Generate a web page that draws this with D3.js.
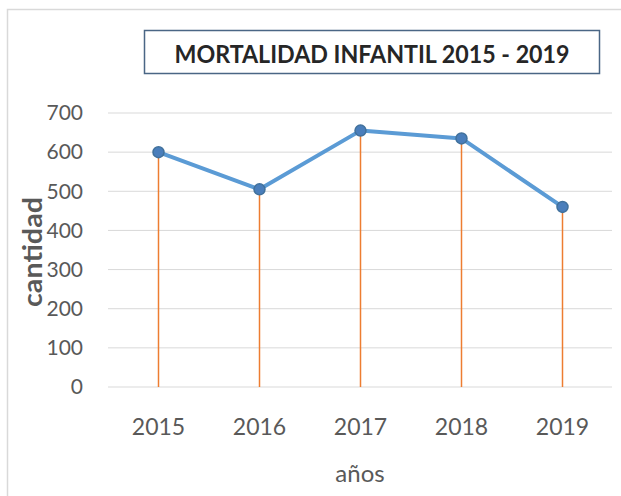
<!DOCTYPE html>
<html>
<head>
<meta charset="utf-8">
<script src="https://cdnjs.cloudflare.com/ajax/libs/d3/7.8.5/d3.min.js"></script>
<style>
  body { margin: 0; background: #fff; }
  text { font-family: Lato, "Open Sans", sans-serif; }
</style>
</head>
<body>
<div id="chart"></div>
<script>
const years = ["2015", "2016", "2017", "2018", "2019"];
const deaths = [600, 505, 655, 635, 460];
const yTicks = [0, 100, 200, 300, 400, 500, 600, 700];

const width = 621;
const height = 496;

const svg = d3.select("#chart")
  .append("svg")
  .attr("width", width)
  .attr("height", height);

svg.append("rect")
  .attr("width", width)
  .attr("height", height)
  .attr("fill", "#fff");

// outer chart frame (cut off at right and bottom)
svg.append("rect")
  .attr("x", 7.5)
  .attr("y", 9.5)
  .attr("width", width)
  .attr("height", height)
  .attr("fill", "none")
  .attr("stroke", "#d9d9d9")
  .attr("stroke-width", 1.5);

const x = d3.scaleBand()
  .domain(years)
  .range([108, 613]);

const y = d3.scaleLinear()
  .domain([0, 700])
  .range([387, 113]);

// gridlines
svg.selectAll(".grid")
  .data(yTicks)
  .enter().append("line")
  .attr("class", "grid")
  .attr("x1", 108)
  .attr("x2", 612)
  .attr("y1", d => y(d))
  .attr("y2", d => y(d))
  .attr("stroke", "#d9d9d9")
  .attr("stroke-width", 1);

// y tick labels
svg.selectAll(".ylab")
  .data(yTicks)
  .enter().append("text")
  .attr("class", "ylab")
  .attr("x", 83)
  .attr("y", d => y(d))
  .attr("dy", ".35em")
  .style("font-size", "21px")
  .style("fill", "#595959")
  .style("text-anchor", "end")
  .text(d => d);

// x tick labels
svg.selectAll(".xlab")
  .data(years)
  .enter().append("text")
  .attr("class", "xlab")
  .attr("x", d => x(d) + x.bandwidth() / 2)
  .attr("y", 435)
  .style("font-size", "23px")
  .style("fill", "#595959")
  .style("text-anchor", "middle")
  .text(d => d);

const points = years.map((yr, i) => ({ year: yr, value: deaths[i] }));
const cx = d => x(d.year) + x.bandwidth() / 2;

// drop lines
svg.selectAll(".drop")
  .data(points)
  .enter().append("line")
  .attr("class", "drop")
  .attr("x1", cx)
  .attr("x2", cx)
  .attr("y1", y(0))
  .attr("y2", d => y(d.value))
  .attr("stroke", "#ED7D31")
  .attr("stroke-width", 1.5);

const line = d3.line()
  .x(cx)
  .y(d => y(d.value));

svg.append("path")
  .datum(points)
  .attr("d", line)
  .attr("fill", "none")
  .attr("stroke", "#5B9BD5")
  .attr("stroke-width", 4)
  .attr("stroke-linejoin", "round");

svg.selectAll(".dot")
  .data(points)
  .enter().append("circle")
  .attr("class", "dot")
  .attr("cx", cx)
  .attr("cy", d => y(d.value))
  .attr("r", 5.5)
  .attr("fill", "#4A7EBB")
  .attr("stroke", "#41719C")
  .attr("stroke-width", 1.5);

// title box
svg.append("rect")
  .attr("x", 144.5)
  .attr("y", 30.5)
  .attr("width", 455)
  .attr("height", 43)
  .attr("fill", "#fff")
  .attr("stroke", "#4a6685")
  .attr("stroke-width", 1.5);

svg.append("text")
  .attr("x", 372)
  .attr("y", 63)
  .attr("textLength", 395)
  .attr("lengthAdjust", "spacingAndGlyphs")
  .style("font-size", "25px")
  .style("font-weight", "bold")
  .style("fill", "#262626")
  .style("text-anchor", "middle")
  .text("MORTALIDAD INFANTIL 2015 - 2019");

// axis titles
svg.append("text")
  .attr("transform", "translate(42,252) rotate(-90)")
  .attr("textLength", 110)
  .attr("lengthAdjust", "spacingAndGlyphs")
  .style("font-size", "26px")
  .style("font-weight", "bold")
  .style("fill", "#595959")
  .style("text-anchor", "middle")
  .text("cantidad");

svg.append("text")
  .attr("x", 360)
  .attr("y", 482)
  .style("font-size", "24px")
  .style("fill", "#595959")
  .style("text-anchor", "middle")
  .text("años");
</script>
</body>
</html>
